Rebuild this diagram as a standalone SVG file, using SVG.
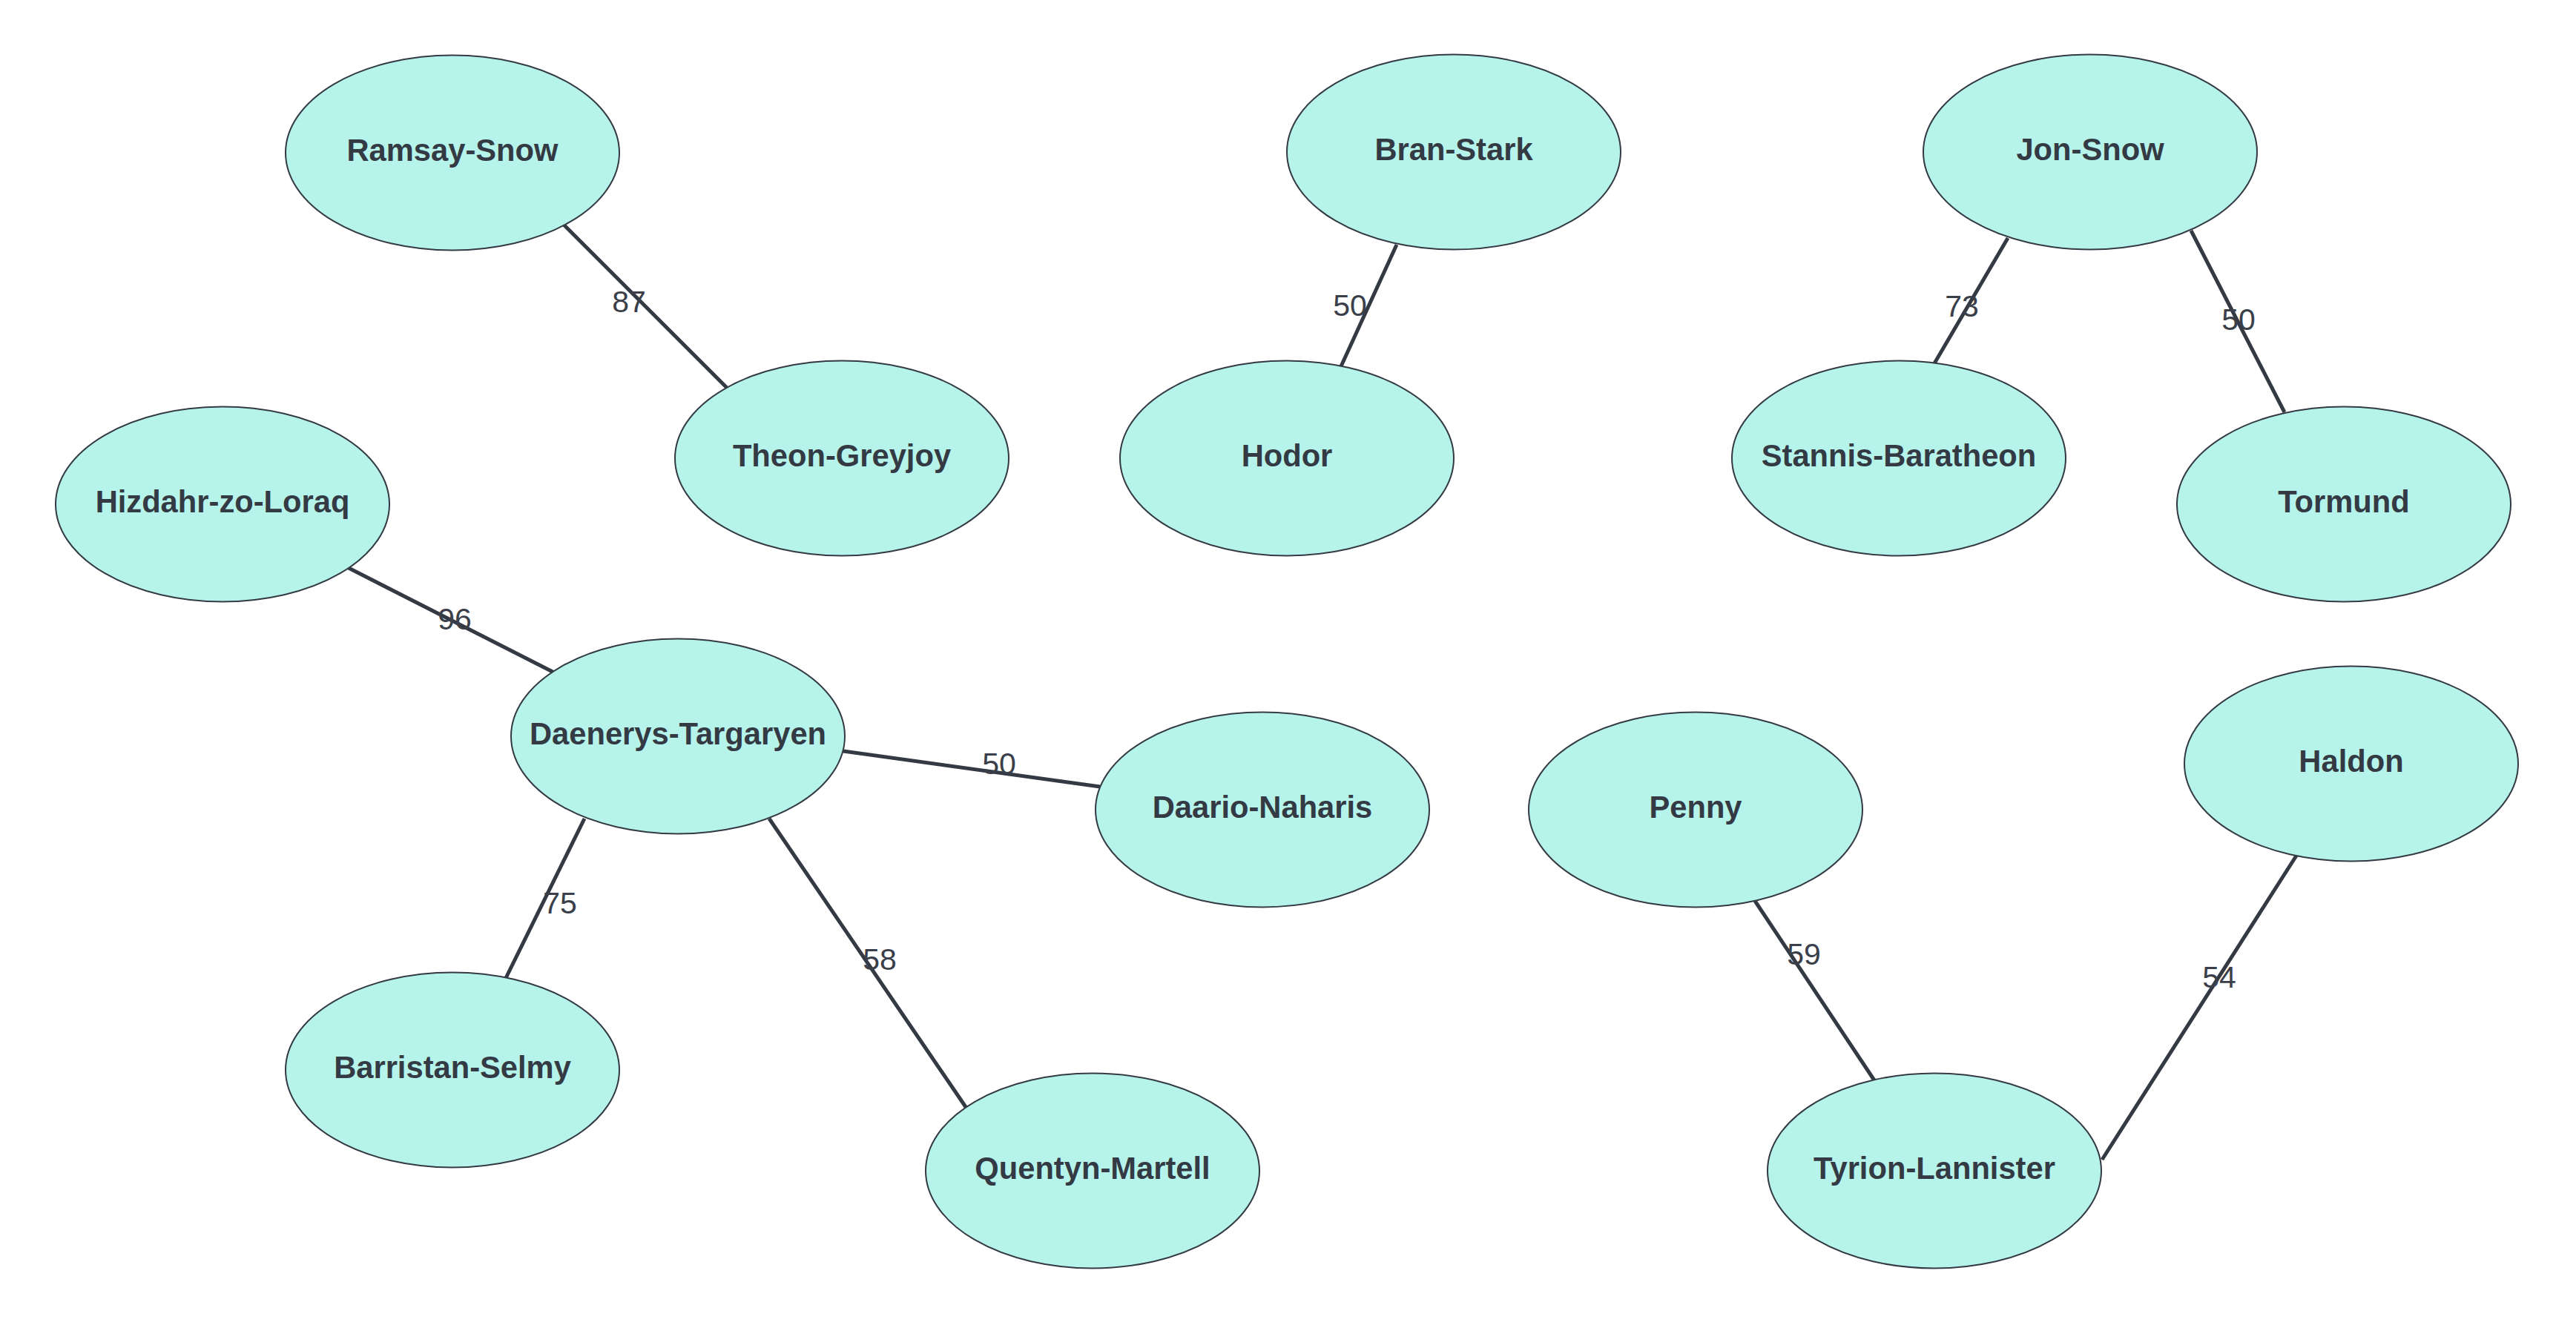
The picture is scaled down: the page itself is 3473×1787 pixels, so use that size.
<svg xmlns="http://www.w3.org/2000/svg" width="3473" height="1787" viewBox="0 0 3473 1787">
<style>
.bg{fill:#ffffff}
.node ellipse{fill:#b6f4eb;stroke:#343a44;stroke-width:2}
.node text{font-family:"Liberation Sans",Arial,sans-serif;font-weight:bold;font-size:41.7px;fill:#343a44;text-anchor:middle}
.edges line{stroke:#343a44;stroke-width:5;stroke-linecap:butt}
.edges text{font-family:"Liberation Sans",Arial,sans-serif;font-size:41px;fill:#3a3f4a;text-anchor:middle}
</style>
<rect class="bg" x="0" y="0" width="3473" height="1787"/>
<g id="connectors" class="edges">
<line x1="760" y1="303" x2="980" y2="523"/>
<line x1="1883" y1="330" x2="1808" y2="494"/>
<line x1="2707" y1="321" x2="2608" y2="490"/>
<line x1="2954" y1="311" x2="3080" y2="556"/>
<line x1="470" y1="766" x2="747" y2="907"/>
<line x1="1137" y1="1013" x2="1483" y2="1061"/>
<line x1="788" y1="1104" x2="682" y2="1319"/>
<line x1="1037" y1="1104" x2="1302" y2="1493"/>
<line x1="2366" y1="1215" x2="2527" y2="1457"/>
<line x1="3096" y1="1154" x2="2834" y2="1564"/>
<text x="848" y="421">87</text>
<text x="1820" y="426">50</text>
<text x="2645" y="427">73</text>
<text x="3018" y="445">50</text>
<text x="613" y="849">96</text>
<text x="1347" y="1044">50</text>
<text x="755" y="1232">75</text>
<text x="1186" y="1308">58</text>
<text x="2432" y="1301">59</text>
<text x="2992" y="1332">54</text>
</g>
<g id="Ramsay-Snow" class="node"><ellipse cx="610" cy="206" rx="225" ry="131.5"/><text x="610" y="217">Ramsay-Snow</text></g>
<g id="Bran-Stark" class="node"><ellipse cx="1960" cy="205" rx="225" ry="131.5"/><text x="1960" y="216">Bran-Stark</text></g>
<g id="Jon-Snow" class="node"><ellipse cx="2818" cy="205" rx="225" ry="131.5"/><text x="2818" y="216">Jon-Snow</text></g>
<g id="Theon-Greyjoy" class="node"><ellipse cx="1135" cy="618" rx="225" ry="131.5"/><text x="1135" y="629">Theon-Greyjoy</text></g>
<g id="Hodor" class="node"><ellipse cx="1735" cy="618" rx="225" ry="131.5"/><text x="1735" y="629">Hodor</text></g>
<g id="Stannis-Baratheon" class="node"><ellipse cx="2560" cy="618" rx="225" ry="131.5"/><text x="2560" y="629">Stannis-Baratheon</text></g>
<g id="Hizdahr-zo-Loraq" class="node"><ellipse cx="300" cy="680" rx="225" ry="131.5"/><text x="300" y="691">Hizdahr-zo-Loraq</text></g>
<g id="Tormund" class="node"><ellipse cx="3160" cy="680" rx="225" ry="131.5"/><text x="3160" y="691">Tormund</text></g>
<g id="Daenerys-Targaryen" class="node"><ellipse cx="914" cy="993" rx="225" ry="131.5"/><text x="914" y="1004">Daenerys-Targaryen</text></g>
<g id="Daario-Naharis" class="node"><ellipse cx="1702" cy="1092" rx="225" ry="131.5"/><text x="1702" y="1103">Daario-Naharis</text></g>
<g id="Penny" class="node"><ellipse cx="2286" cy="1092" rx="225" ry="131.5"/><text x="2286" y="1103">Penny</text></g>
<g id="Haldon" class="node"><ellipse cx="3170" cy="1030" rx="225" ry="131.5"/><text x="3170" y="1041">Haldon</text></g>
<g id="Barristan-Selmy" class="node"><ellipse cx="610" cy="1443" rx="225" ry="131.5"/><text x="610" y="1454">Barristan-Selmy</text></g>
<g id="Quentyn-Martell" class="node"><ellipse cx="1473" cy="1579" rx="225" ry="131.5"/><text x="1473" y="1590">Quentyn-Martell</text></g>
<g id="Tyrion-Lannister" class="node"><ellipse cx="2608" cy="1579" rx="225" ry="131.5"/><text x="2608" y="1590">Tyrion-Lannister</text></g>
</svg>
